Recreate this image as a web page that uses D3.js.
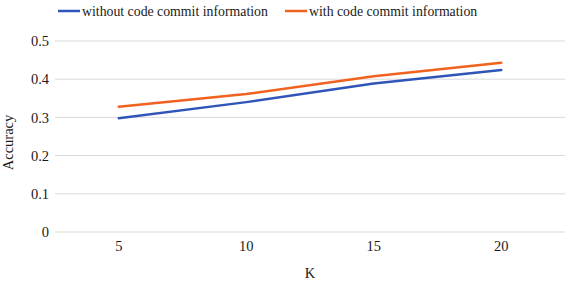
<!DOCTYPE html>
<html><head><meta charset="utf-8">
<script src="https://cdn.jsdelivr.net/npm/d3@7"></script>
<style>body{margin:0;background:#fff}svg{display:block}svg text{font-family:"Liberation Serif","Times New Roman",serif}</style>
</head><body>
<svg id="c" width="567" height="282"></svg>
<script>
const categories = ["5","10","15","20"];
const seriesNames = ["without code commit information","with code commit information"];
const withoutCommit = [0.298, 0.340, 0.389, 0.424];
const withCommit = [0.328, 0.361, 0.408, 0.443];
const yTicks = [0, 0.1, 0.2, 0.3, 0.4, 0.5];
const colors = ["#2f55b8", "#f0621e"];

const svg = d3.select("#c");
const fs = 14.5;
const L = 55, R = 565, T = 41, B = 232;
const x = d3.scaleBand().domain(categories).range([L, R]);
const y = d3.scaleLinear().domain([0, 0.5]).range([B, T]);

svg.append("g").selectAll("line").data(yTicks).enter().append("line")
  .attr("x1", L).attr("x2", R)
  .attr("y1", d => y(d)).attr("y2", d => y(d))
  .attr("stroke", "#d9d9d9").attr("stroke-width", 1);

const yAxis = d3.axisLeft(y).tickValues(yTicks).tickSize(0).tickPadding(6)
  .tickFormat(d => d === 0 ? "0" : d3.format(".1f")(d));
const ya = svg.append("g").attr("transform", `translate(${L},0)`).call(yAxis);
ya.select(".domain").remove();
ya.attr("font-family", null);
ya.selectAll("text").attr("font-size", fs).attr("fill", "#1a1a1a");

const xAxis = d3.axisBottom(x).tickSize(0).tickPadding(9);
const xa = svg.append("g").attr("transform", `translate(0,${B})`).call(xAxis);
xa.select(".domain").remove();
xa.attr("font-family", null);
xa.selectAll("text").attr("font-size", fs).attr("fill", "#1a1a1a");

const line = d3.line().x((d, i) => x(categories[i]) + x.bandwidth() / 2).y(d => y(d));
[withoutCommit, withCommit].forEach((s, k) => {
  svg.append("path").datum(s).attr("d", line)
    .attr("fill", "none").attr("stroke", colors[k]).attr("stroke-width", 2.5)
    .attr("stroke-linecap", "round").attr("stroke-linejoin", "round");
});

svg.append("text").attr("x", (L + R) / 2).attr("y", 278).attr("text-anchor", "middle")
  .attr("font-size", fs).attr("fill", "#1a1a1a").text("K");
svg.append("text").attr("transform", `translate(13,${(T + B) / 2 + 6}) rotate(-90)`)
  .attr("text-anchor", "middle").attr("font-size", fs)
  .attr("fill", "#1a1a1a").text("Accuracy");

const legX = [58, 285];
seriesNames.forEach((n, k) => {
  svg.append("line").attr("x1", legX[k]).attr("x2", legX[k] + 22).attr("y1", 11).attr("y2", 11)
    .attr("stroke", colors[k]).attr("stroke-width", 2.5);
  svg.append("text").attr("x", legX[k] + 24).attr("y", 16)
    .attr("font-size", 13.8).attr("fill", "#1a1a1a").text(n);
});
</script>
</body></html>
